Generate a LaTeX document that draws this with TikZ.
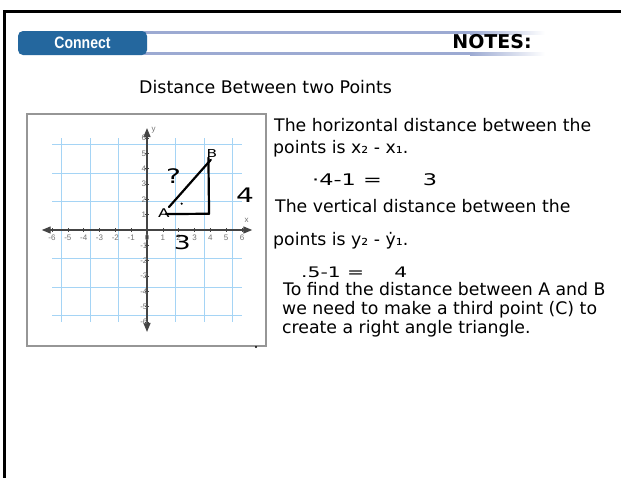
\documentclass[tikz,border=0pt]{standalone}
\usepackage{fontspec}
\setmainfont{DejaVu Sans}
\newfontfamily\bannerfont[FakeStretch=0.85]{Liberation Sans}
\newfontfamily\handfont[FakeStretch=1.4]{DejaVu Sans}
\newfontfamily\axisfont{Liberation Sans}
\usetikzlibrary{positioning,arrows.meta}
\definecolor{connectblue}{RGB}{36,103,158}
\definecolor{barblue}{RGB}{156,170,210}
\definecolor{gridblue}{RGB}{165,212,245}
\definecolor{axisgray}{RGB}{68,68,68}
\definecolor{framegray}{RGB}{150,150,150}

\begin{document}
\begin{tikzpicture}[x=1pt, y=-1pt, line/.style={anchor=base west, inner sep=0pt, font=\fontsize{17.3}{20}\selectfont}, hand/.style={inner sep=0pt, font=\handfont\fontsize{16}{16}\selectfont}, ticklabel/.style={inner sep=0pt, text=axisgray!75, font=\axisfont\fontsize{8}{8}\selectfont}, pen/.style={line width=2.2pt, line cap=round, line join=round}]
\useasboundingbox (0,0) rectangle (621,477);
\fill[white] (0,0) rectangle (621,477);
\draw[line width=3.3pt] (640,11.7) -- (4.3,11.7) -- (4.3,490);

% banner
\fill[barblue] (140,31) rectangle (470,34);
\fill[barblue] (140,52) rectangle (470,55);
\shade[left color=barblue, right color=white] (470,31) rectangle (545,34);
\shade[left color=barblue, right color=white] (470,52) rectangle (545,55);
\node[fill=connectblue, rounded corners=5pt, minimum width=129pt, minimum height=24pt, inner sep=0pt, text=white, font=\bannerfont\bfseries\fontsize{16.5}{17}\selectfont] (connect) at (82.5,43) {Connect};
\node[inner sep=0pt, font=\bfseries\fontsize{19}{20}\selectfont] (notes) at (492,42) {NOTES:};

\node[line, font=\fontsize{17.4}{20}\selectfont] (title) at (139,93) {Distance Between two Points};

% graph
\draw[framegray, line width=1.2pt] (27,114) rectangle (266,346);
\begin{scope}[shift={(147,230)}, x=15.83pt, y=15.33pt]
\draw[gridblue, line width=0.8pt] (-6,-6) grid (6,6);
\draw[axisgray, line width=1.3pt, {Triangle[length=9pt,width=7pt]}-{Triangle[length=9pt,width=7pt]}] (-6.65,0) -- (6.65,0);
\draw[axisgray, line width=1.3pt, {Triangle[length=9pt,width=7pt]}-{Triangle[length=9pt,width=7pt]}] (0,-6.65) -- (0,6.65);
\foreach \i in {-6,...,6} {
  \draw[axisgray, line width=0.6pt] (\i,-0.12) -- (\i,0.12);
  \draw[axisgray, line width=0.6pt] (-0.12,\i) -- (0.12,\i);
  \node[ticklabel] (xl\i) at (\i,-0.52) {\i};
}
\foreach \i in {-6,...,-1,1,2,...,6}
  \node[ticklabel] (yl\i) at (-0.2,\i) {\i};
\node[ticklabel] (xname) at (6.3,0.62) {x};
\node[ticklabel] (yname) at (0.42,6.5) {y};

% handwriting
\coordinate (ptA) at (1.2,1.04);
\coordinate (ptC) at (3.92,1.06);
\coordinate (ptB) at (3.88,4.72);
\coordinate (hypA) at (1.39,1.5);
\coordinate (hypB) at (4.03,4.58);
\draw[pen] (ptA) -- (ptC) -- (ptB);
\draw[pen] (hypA) -- (hypB);
\node[hand, font=\handfont\fontsize{12}{12}\selectfont] (labA) at (1.07,1.1) {A};
\node[hand, font=\handfont\fontsize{11}{11}\selectfont] (labB) at (4.1,5.0) {B};
\node[hand, font=\handfont\fontsize{20}{20}\selectfont] (quest) at (1.67,3.5) {?};
\fill (2.19,1.72) circle (1.2pt);
\node[hand, font=\handfont\fontsize{19}{19}\selectfont] (three) at (2.23,-0.8) {3};
\node[hand, font=\handfont\fontsize{20}{20}\selectfont] (four) at (6.2,2.3) {4};
\end{scope}
\fill (256,347) circle (1.1pt);

% notes text
\node[line] (hline1) at (274,131) {The horizontal distance between the};
\node[line] (hline2) at (273,153) {points is x₂ - x₁.};
\node[hand, anchor=base west] (hcalc) at (312,185) {·4-1 =\hspace{41pt}3};
\node[line] (vline1) at (275,212) {The vertical distance between the};
\node[line] (vline2) at (273,245) {points is y₂ - ẏ₁.};
\node[hand, anchor=base west, font=\handfont\fontsize{14.5}{15}\selectfont] (vcalc) at (301,277) {.5-1 =\hspace{30pt}4};
\node[line] (find1) at (283,295) {To find the distance between A and B};
\node[line] (find2) at (282,314) {we need to make a third point (C) to};
\node[line] (find3) at (282,333) {create a right angle triangle.};
\end{tikzpicture}
\end{document}
